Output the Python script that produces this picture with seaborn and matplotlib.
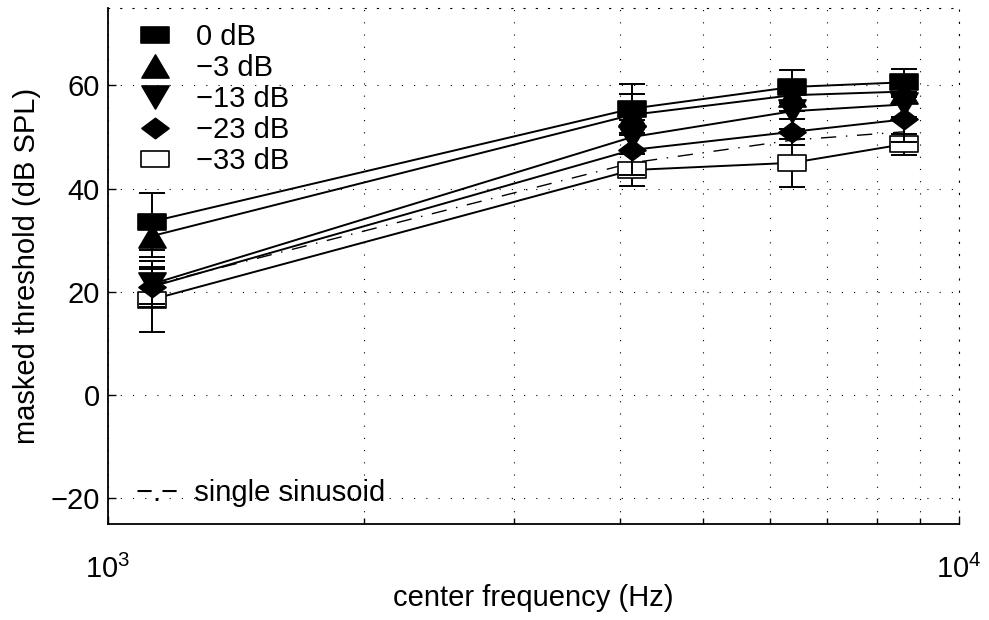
import numpy as np
import pandas as pd
import matplotlib
matplotlib.use("Agg")
import matplotlib.pyplot as plt
from matplotlib.path import Path
from matplotlib.lines import Line2D
from matplotlib.ticker import NullFormatter
import seaborn as sns

# ---------------- data ----------------
freq_hz = [1126, 4130, 6370, 8610]
series_labels = ["0 dB", "\u22123 dB", "\u221213 dB", "\u221223 dB", "\u221233 dB"]
thr_0 = [33.6, 55.5, 59.7, 60.6]
thr_m3 = [30.8, 54.3, 58.1, 58.8]
thr_m13 = [21.5, 50.0, 55.0, 56.3]
thr_m23 = [21.0, 47.5, 51.0, 53.4]
thr_m33 = [18.5, 43.6, 45.0, 48.6]
err_0 = [5.5, 4.8, 3.2, 2.5]
err_m3 = [4.0, 4.0, 3.0, 2.2]
err_m13 = [4.5, 3.3, 3.5, 2.5]
err_m23 = [3.4, 4.9, 2.5, 4.4]
err_m33 = [6.3, 3.1, 4.7, 2.0]
thr_sinusoid = [21.3, 45.0, 49.4, 51.0]
y_ticks = [-20, 0, 20, 40, 60]

# ---------------- style ----------------
sns.set_style("ticks")
plt.rcParams["font.family"] = ["Liberation Sans", "DejaVu Sans"]
plt.rcParams["axes.unicode_minus"] = True
for k in ["text.color", "axes.labelcolor", "xtick.color", "ytick.color",
          "xtick.labelcolor", "ytick.labelcolor", "axes.edgecolor", "legend.labelcolor"]:
    plt.rcParams[k] = "black"

FS = 21

def mk(verts):
    codes = [Path.MOVETO] + [Path.LINETO] * (len(verts) - 1) + [Path.CLOSEPOLY]
    return Path(list(verts) + [verts[0]], codes)

m_rect = mk([(-1, -0.58), (1, -0.58), (1, 0.58), (-1, 0.58)])
m_up = mk([(0, 0.85), (1, -0.85), (-1, -0.85)])
m_down = mk([(0, -0.85), (1, 0.85), (-1, 0.85)])
m_diam = mk([(0, 0.75), (1, 0), (0, -0.75), (-1, 0)])

thr = [thr_0, thr_m3, thr_m13, thr_m23, thr_m33]
errs = [err_0, err_m3, err_m13, err_m23, err_m33]
markers = [m_rect, m_up, m_down, m_diam, m_rect]
faces = ["black", "black", "black", "black", "white"]

fig = plt.figure(figsize=(9.89, 6.2), dpi=100)
ax = fig.add_axes([108 / 989, 1 - 524 / 620, 851 / 989, 516 / 620])

# sinusoid reference (dash-dot)
sns.lineplot(x=freq_hz, y=thr_sinusoid, ax=ax, color="black", lw=1.0,
             linestyle=(0, (11, 7, 1, 7)), errorbar=None, legend=False, sort=False)

MS = 19.5
for i in [4, 3, 2, 1, 0]:
    ax.errorbar(freq_hz, thr[i], yerr=errs[i], fmt="none", ecolor="black",
                elinewidth=1.4, capsize=9.5, capthick=1.4, zorder=3 + (4 - i) * 0.1)
    sns.lineplot(x=freq_hz, y=thr[i], ax=ax, color="black", lw=1.4,
                 marker=markers[i], markersize=MS, markerfacecolor=faces[i],
                 markeredgecolor="black", markeredgewidth=1.2,
                 errorbar=None, legend=False, sort=False,
                 zorder=3.05 + (4 - i) * 0.1)

# axes
ax.set_xscale("log")
ax.set_xlim(1000, 10000)
ax.set_ylim(-25, 75)
ax.set_yticks(y_ticks)
ax.xaxis.set_minor_formatter(NullFormatter())
ax.tick_params(axis="both", which="both", direction="in", labelsize=FS,
               color="black", labelcolor="black", width=1.0)
ax.tick_params(axis="both", which="major", length=6)
ax.tick_params(axis="both", which="minor", length=4)
ax.tick_params(axis="x", which="major", pad=22)
ax.tick_params(axis="y", which="major", pad=6)

dot = (0, (1, 10))
ax.grid(True, which="major", axis="y", color="black", lw=0.8, linestyle=dot)
ax.grid(True, which="both", axis="x", color="black", lw=0.8, linestyle=dot)

for s in ["top", "right"]:
    ax.spines[s].set_linestyle(dot)
    ax.spines[s].set_linewidth(0.8)
for s in ["left", "bottom"]:
    ax.spines[s].set_linewidth(1.3)
    ax.spines[s].set_color("black")

ax.set_xlabel("center frequency (Hz)", fontsize=FS, color="black")
ax.set_ylabel("masked threshold (dB SPL)", fontsize=FS, color="black")
ax.xaxis.set_label_coords(0.5, -0.116)
ax.yaxis.set_label_coords(-0.079, 0.5)

# legend
handles = [Line2D([], [], ls="none", marker=markers[i], markersize=MS,
                  markerfacecolor=faces[i], markeredgecolor="black",
                  markeredgewidth=1.2) for i in range(5)]
ax.legend(handles, series_labels, loc="upper left", frameon=False, fontsize=FS,
          handlelength=1.0, handletextpad=0.9, labelspacing=0.1,
          borderpad=0.2, borderaxespad=0, bbox_to_anchor=(0.031, 0.982),
          labelcolor="black")

ax.text(0.033, -19.0, "\u2212.\u2212  single sinusoid", fontsize=FS, color="black",
        transform=ax.get_yaxis_transform(), ha="left", va="center")

fig.savefig("out.png", dpi=100)
